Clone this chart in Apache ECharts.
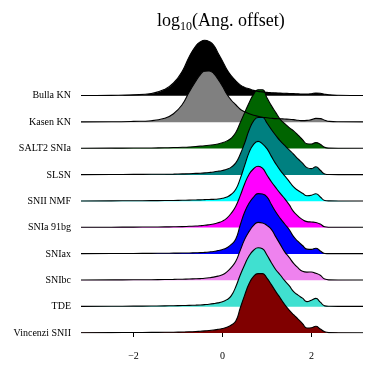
<!DOCTYPE html>
<html>
<head>
<meta charset="utf-8">
<script src="https://cdn.jsdelivr.net/npm/echarts@6/dist/echarts.min.js"></script>
<style>
  html, body { margin: 0; padding: 0; background: #fff; }
  #main { width: 374px; height: 374px; }
</style>
</head>
<body>
<div id="main"></div>
<script>
// shared x grid (log10 angular offset)
const xs = [-3.18, -2.5, -2.0, -1.6, -1.3, -1.1, -0.9, -0.75, -0.6, -0.5, -0.4, -0.3, -0.2, -0.1,
  0.0, 0.1, 0.2, 0.3, 0.4, 0.5, 0.6, 0.7, 0.8, 0.9, 1.0, 1.1, 1.2, 1.3, 1.4, 1.5, 1.6, 1.7, 1.8,
  1.9, 2.0, 2.1, 2.2, 2.3, 2.4, 2.6, 3.16]

// densities (top row first)
const bullaKN = [0.3, 0.5, 1.0, 2.3, 6.5, 13, 25, 39, 50, 54, 55.7, 54.5, 51, 43,
  35, 26.3, 20, 15, 11, 8.5, 7, 5.5, 4.5, 4, 3.5, 3.2, 3, 2.8, 2.6, 2.4, 2.2, 2, 1.8,
  1.8, 2.2, 2.9, 2.6, 1.6, 1.0, 0.6, 0.3]
const kasenKN = [0.3, 0.4, 0.8, 1.5, 4, 8.5, 18, 30, 41, 47.5, 51, 51.3, 49, 43,
  36, 28, 22, 17.5, 13, 10.5, 8.5, 7, 6, 5, 4.5, 4, 3.6, 3.4, 3.2, 3, 2.6, 2, 1.6,
  1.8, 2.6, 3.8, 3.6, 2.0, 0.8, 0.4, 0.3]
const salt2 = [0.3, 0.4, 0.5, 0.6, 0.8, 1.0, 1.3, 1.6, 2.1, 2.4, 2.8, 3.3, 3.9, 4.6,
  5.8, 7.7, 10.5, 16, 26, 36, 46, 54.3, 59, 59, 51, 43, 36, 29.3, 25, 21, 17.7, 13.5, 9,
  4.8, 4.5, 6, 4.3, 1.2, 0.4, 0.3, 0.3]
const slsn = [0.3, 0.4, 0.5, 0.6, 0.7, 0.8, 1.0, 1.2, 1.5, 1.7, 2.0, 2.4, 2.9, 3.6,
  4.5, 5.7, 7.8, 12, 20.7, 32, 45, 54, 57.5, 57.5, 52, 45.5, 39.5, 34, 29.5, 25, 20.7, 16, 11.8,
  7.3, 6.3, 8.2, 4.7, 1.0, 0.4, 0.3, 0.3]
const sniiNMF = [0.3, 0.4, 0.5, 0.6, 0.7, 0.8, 1.0, 1.1, 1.3, 1.4, 1.6, 1.8, 1.9, 2.2,
  3.0, 4.3, 7, 12, 22.7, 36, 49, 57, 60, 57.5, 52.7, 45, 37.5, 31, 25.5, 20, 14.3, 10.8, 8,
  5.5, 6, 7.6, 4.3, 0.8, 0.4, 0.3, 0.3]
const snia91bg = [0.3, 0.4, 0.5, 0.6, 0.7, 0.8, 1.0, 1.3, 1.6, 1.9, 2.3, 2.9, 3.6, 4.8,
  6.5, 9.5, 14.5, 21.5, 32, 44, 53.5, 59, 61.5, 59.5, 52.7, 46, 40, 34.3, 29, 23, 16, 11.5, 8,
  6, 5.6, 5.1, 3.5, 0.8, 0.4, 0.3, 0.3]
const sniax = [0.3, 0.4, 0.5, 0.6, 0.7, 0.8, 0.9, 1.0, 1.2, 1.3, 1.6, 2.0, 2.5, 3.4,
  4.4, 6.3, 9.5, 15, 29, 42, 51, 57, 60.5, 60, 57.3, 49.5, 42, 35.7, 30, 24.5, 17.3, 12.5, 8.5,
  4.8, 4.6, 5.7, 3.0, 0.5, 0.3, 0.3, 0.3]
const snibc = [0.3, 0.4, 0.5, 0.6, 0.8, 0.9, 1.1, 1.3, 1.5, 1.7, 2.0, 2.5, 3.2, 4.2,
  5.5, 8.5, 13, 19, 30, 41, 49, 55, 58, 57.5, 55, 51, 43.5, 36, 28.5, 23, 17, 12.5, 9,
  8.2, 8.3, 7, 5, 1.2, 0.4, 0.3, 0.3]
const tde = [0.3, 0.4, 0.5, 0.6, 0.8, 0.9, 1.1, 1.3, 1.5, 1.7, 2.0, 2.4, 3.0, 3.8,
  5.0, 7, 11, 20, 31.7, 42, 51, 56.5, 59, 58, 51.7, 44, 37, 31.7, 26, 21, 15, 11.5, 8.5,
  5, 6.5, 8.3, 4.5, 0.8, 0.4, 0.3, 0.3]
const vincenziSNII = [0.3, 0.4, 0.5, 0.6, 0.7, 0.8, 1.0, 1.2, 1.5, 1.8, 2.1, 2.5, 3.0, 3.6,
  4.5, 5.8, 8, 12, 25, 38, 49.5, 56.7, 59.5, 59.5, 55, 48.5, 41.5, 35, 28.5, 23, 18.3, 14, 9.5,
  5, 5.3, 6.7, 4, 1.2, 0.4, 0.3, 0.3]

const names = ['Bulla KN', 'Kasen KN', 'SALT2 SNIa', 'SLSN', 'SNII NMF', 'SNIa 91bg',
  'SNIax', 'SNIbc', 'TDE', 'Vincenzi SNII']
const densities = [bullaKN, kasenKN, salt2, slsn, sniiNMF, snia91bg, sniax, snibc, tde, vincenziSNII]
const colors = ['#000000', '#808080', '#006400', '#008080', '#00ffff', '#ff00ff',
  '#0000ff', '#ee82ee', '#40e0d0', '#800000']
const xTicks = [-2, 0, 2]

const SCALE = 1 / 26.4 // ridge height per density unit, in row spacings
const serif = '"Liberation Serif", "DejaVu Serif", serif'

const chart = echarts.init(document.getElementById('main'))

// row 0 is the bottom ridge, so top names get the largest baseline
const n = names.length
const series = names.map((name, i) => {
  const base = n - 1 - i
  return {
    name: name,
    type: 'line',
    smooth: 0.5,
    symbol: 'none',
    silent: true,
    lineStyle: { color: '#000', width: 1.1 },
    areaStyle: { color: colors[i], opacity: 1, origin: base },
    data: xs.map((x, k) => [x, base + densities[i][k] * SCALE])
  }
})

const option = {
  animation: false,
  title: {
    text: '{a|log}{b|10}{a|(Ang. offset)}',
    left: 152,
    top: 4,
    textStyle: {
      rich: {
        a: { fontFamily: serif, fontSize: 18, fontWeight: 'normal', color: '#000', lineHeight: 24 },
        b: { fontFamily: serif, fontSize: 12, fontWeight: 'normal', color: '#000', lineHeight: 24, verticalAlign: 'bottom', padding: [10, 0, 0, 0] }
      }
    }
  },
  grid: { left: 81, right: 11, top: 30, bottom: 41 },
  xAxis: {
    type: 'value',
    min: -3.18,
    max: 3.16,
    offset: 10,
    axisLine: { show: false },
    splitLine: { show: false },
    axisTick: { show: true, length: 4, customValues: xTicks, lineStyle: { color: '#000' } },
    axisLabel: {
      customValues: xTicks,
      margin: 8,
      fontFamily: serif,
      fontSize: 10,
      color: '#000',
      formatter: v => (v < 0 ? '\u2212' + Math.abs(v) : String(v))
    }
  },
  yAxis: {
    type: 'value',
    min: 0,
    max: 11.5,
    interval: 1,
    axisLine: { show: false },
    axisTick: { show: false },
    splitLine: { show: false },
    axisLabel: {
      margin: 10,
      fontFamily: serif,
      fontSize: 10,
      color: '#000',
      showMaxLabel: false,
      formatter: v => (v >= 0 && v < n ? names[n - 1 - v] : '')
    }
  },
  series: series
}

chart.setOption(option)
</script>
</body>
</html>
